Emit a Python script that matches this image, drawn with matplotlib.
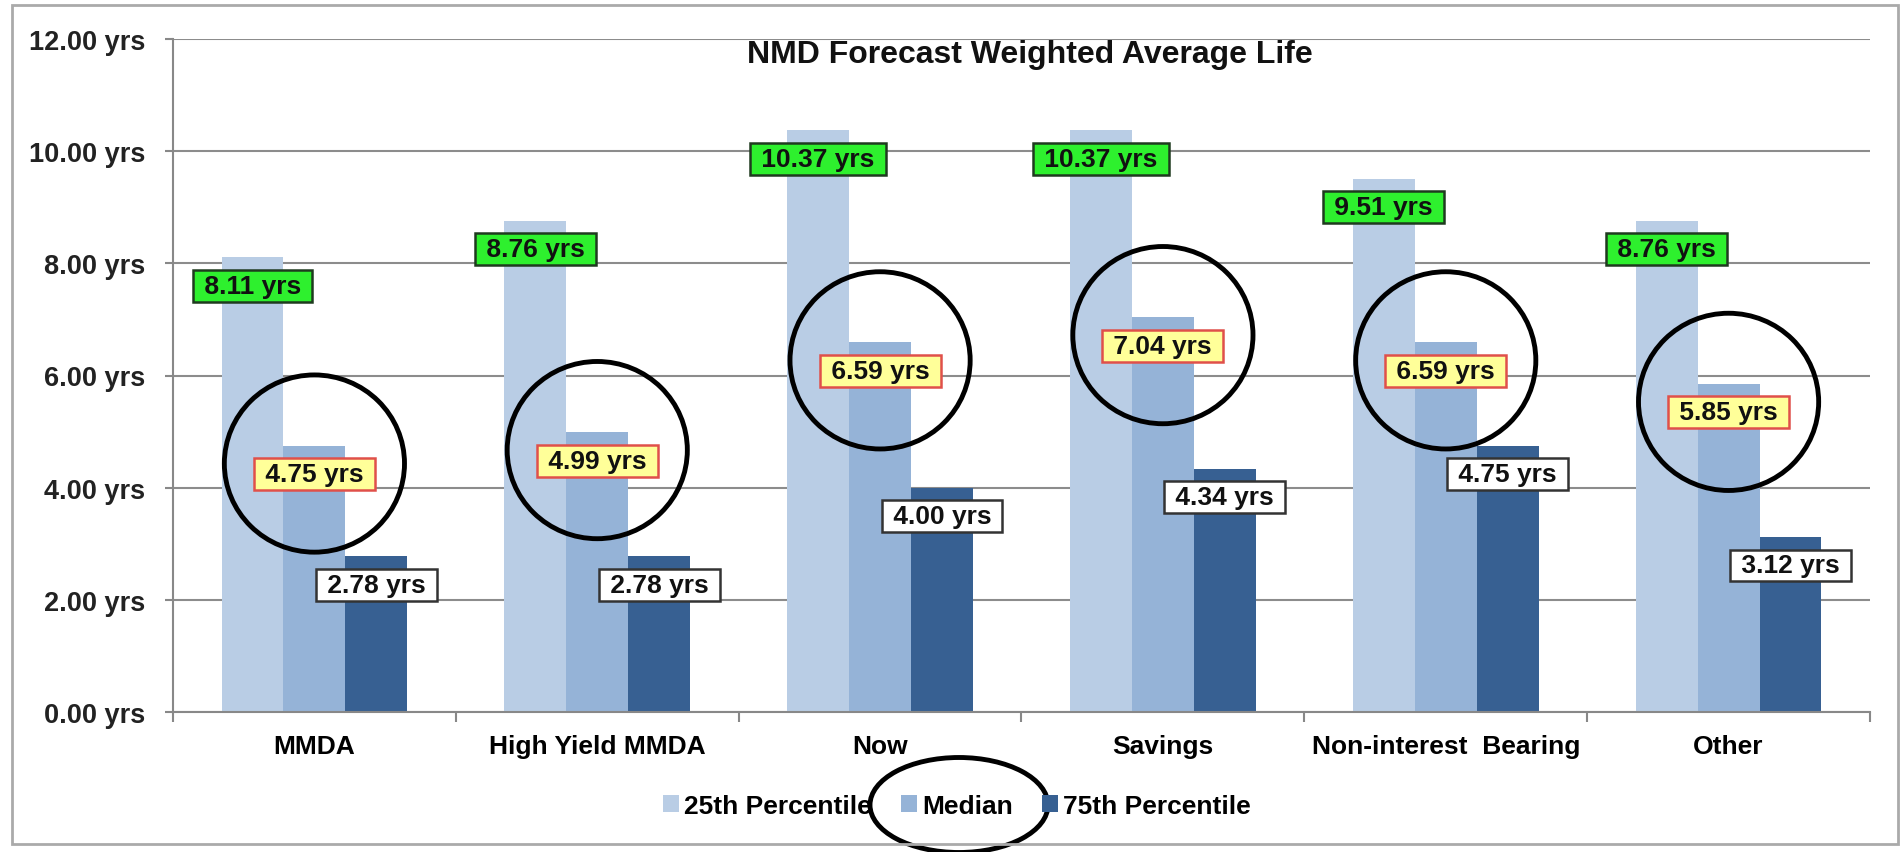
import matplotlib

matplotlib.use("Agg")
import matplotlib.pyplot as plt
import numpy as np
from matplotlib.patches import Ellipse, Patch, Rectangle

plt.rcParams["font.family"] = ["Liberation Sans", "DejaVu Sans"]
plt.rcParams["font.weight"] = "bold"

categories = ["MMDA", "High Yield MMDA", "Now", "Savings", "Non-interest  Bearing", "Other"]
p25 = [8.11, 8.76, 10.37, 10.37, 9.51, 8.76]
median = [4.75, 4.99, 6.59, 7.04, 6.59, 5.85]
p75 = [2.78, 2.78, 4.00, 4.34, 4.75, 3.12]
series_names = ["25th Percentile", "Median", "75th Percentile"]
yticks = [0, 2, 4, 6, 8, 10, 12]

colors = ["#B9CDE5", "#95B3D7", "#376092"]
# label box styles per series: (face, edge)
label_styles = [("#2EF02E", "#1f3a1f"), ("#FFFF99", "#E0504A"), ("#FFFFFF", "#333333")]

fig = plt.figure(figsize=(19.02, 8.53), dpi=100)
ax = fig.add_axes([173 / 1902, 1 - 713 / 853, (1870 - 173) / 1902, (713 - 40) / 853])

x = np.arange(len(categories))
bw = 0.219
for i, (vals, col) in enumerate(zip([p25, median, p75], colors)):
    pos = x + (i - 1) * bw
    ax.bar(pos, vals, bw, color=col, zorder=2)
    face, edge = label_styles[i]
    for xp, v in zip(pos, vals):
        ax.annotate(
            f" {v:.2f} yrs ",
            (xp, v),
            xytext=(0, -20.5),
            textcoords="offset points",
            ha="center",
            va="center",
            fontsize=19,
            fontweight="bold",
            color="#111111",
            zorder=5,
            bbox=dict(boxstyle="square,pad=0.15", fc=face, ec=edge, lw=1.8),
        )

# circles around the median labels
for xi, v in zip(x, median):
    ax.add_patch(
        Ellipse((xi, v - 0.32), 0.637, 3.16, fill=False, ec="black", lw=3.5, zorder=6)
    )

ax.set_xlim(-0.5, len(categories) - 0.5)
ax.set_ylim(0, 12)
ax.set_yticks(yticks)
ax.set_yticklabels([f"{t:.2f} yrs" for t in yticks], fontsize=19.5, fontweight="bold")
ax.set_xticks(np.arange(len(categories) + 1) - 0.5)
ax.set_xticklabels([])
ax.set_xticks(x, minor=True)
ax.set_xticklabels(categories, minor=True, fontsize=19, fontweight="bold")
ax.tick_params(axis="x", which="minor", length=0, pad=16)
ax.tick_params(axis="x", which="major", length=7, color="#888888", width=1.5)
ax.tick_params(axis="y", length=6, color="#888888", width=1.5, pad=14, labelcolor="#222222")

ax.grid(axis="y", color="#8c8c8c", lw=1.5, zorder=0)
ax.set_axisbelow(True)
for s in ["top", "right"]:
    ax.spines[s].set_visible(False)
for s in ["left", "bottom"]:
    ax.spines[s].set_color("#888888")
    ax.spines[s].set_linewidth(1.5)

fig.text(1030 / 1902, 1 - 55 / 853, "NMD Forecast Weighted Average Life",
         ha="center", va="center", fontsize=23, fontweight="bold", color="#111111")

handles = [Patch(facecolor=c, label=n) for c, n in zip(colors, series_names)]
fig.legend(
    handles=handles,
    loc="center",
    bbox_to_anchor=(957 / 1902, 1 - 807 / 853),
    ncol=3,
    frameon=False,
    fontsize=19,
    handlelength=0.6,
    handleheight=0.6,
    handletextpad=0.2,
    columnspacing=1.1,
)

# circle around the Median legend entry
fig.patches.append(
    Ellipse((959 / 100, (853 - 806) / 100), 1.78, 0.95, fill=False, ec="black", lw=3.5,
            transform=fig.dpi_scale_trans, figure=fig)
)
# outer chart border
fig.patches.append(
    Rectangle((12 / 100, (853 - 845) / 100), (1898 - 12) / 100, (845 - 6) / 100, fill=False,
              ec="#aaaaaa", lw=2, transform=fig.dpi_scale_trans, figure=fig)
)

fig.savefig("out.png", dpi=100)
